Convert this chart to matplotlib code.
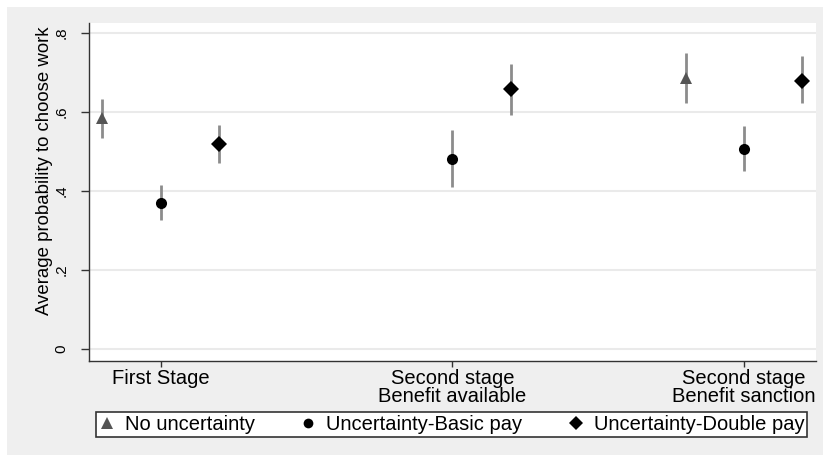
import matplotlib
matplotlib.use("Agg")
import matplotlib.pyplot as plt
from matplotlib.lines import Line2D
from matplotlib.patches import Rectangle
import numpy as np

plt.rcParams['font.family'] = ['Liberation Sans', 'DejaVu Sans']

categories = ["First Stage", "Second stage\nBenefit available", "Second stage\nBenefit sanction"]
series_names = ["No uncertainty", "Uncertainty-Basic pay", "Uncertainty-Double pay"]

# estimates and CI bounds per series (None = absent)
no_unc = [0.584, None, 0.686]
no_unc_lo = [0.533, None, 0.622]
no_unc_hi = [0.633, None, 0.750]

basic = [0.370, 0.482, 0.507]
basic_lo = [0.327, 0.410, 0.450]
basic_hi = [0.414, 0.554, 0.564]

double = [0.520, 0.657, 0.679]
double_lo = [0.472, 0.592, 0.622]
double_hi = [0.567, 0.722, 0.741]

yticks = [0, 0.2, 0.4, 0.6, 0.8]
yticklabels = ["0", ".2", ".4", ".6", ".8"]

W, H = 823, 455
fig = plt.figure(figsize=(W/100, H/100), dpi=100, facecolor='#efefef')
# white strips on top and left
fig.patches.append(Rectangle((0, 0), 7/W, 1, transform=fig.transFigure, facecolor='white', edgecolor='none', zorder=0))
fig.patches.append(Rectangle((0, 1-7/H), 1, 7/H, transform=fig.transFigure, facecolor='white', edgecolor='none', zorder=0))

left, right, top, bottom = 89, 816, 23, 361
ax = fig.add_axes([left/W, 1-bottom/H, (right-left)/W, (bottom-top)/H])
ax.set_facecolor('white')

x = np.arange(1, len(categories)+1)
offsets = [-0.2, 0.0, 0.2]
styles = [
    dict(marker='^', color='#555555', ms=9),
    dict(marker='o', color='black', ms=8),
    dict(marker='D', color='black', ms=8),
]
data = [(no_unc, no_unc_lo, no_unc_hi), (basic, basic_lo, basic_hi), (double, double_lo, double_hi)]

for (est, lo, hi), off, st in zip(data, offsets, styles):
    for xi, e, l, h in zip(x, est, lo, hi):
        if e is None:
            continue
        ax.plot([xi+off, xi+off], [l, h], color='#8c8c8c', lw=2, zorder=2, solid_capstyle='butt')
        ax.plot([xi+off], [e], linestyle='none', marker=st['marker'], color=st['color'],
                markersize=st['ms'], markeredgewidth=0, zorder=3)

ax.set_xlim(0.754, 3.247)
ax.set_ylim(-0.030, 0.825)
ax.set_yticks(yticks)
ax.set_yticklabels(yticklabels, rotation=90, va='center', fontsize=11)
ax.set_xticks(x)
ax.set_xticklabels(categories, fontsize=14.5, linespacing=0.92)
ax.set_ylabel("Average probability to choose work", fontsize=13.4, labelpad=1)
ax.yaxis.label.set_y((361-171)/338)

ax.grid(axis='y', color='#eaeaea', lw=1.5)
ax.set_axisbelow(True)
for s in ['top', 'right']:
    ax.spines[s].set_visible(False)
for s in ['left', 'bottom']:
    ax.spines[s].set_color('#333333')
    ax.spines[s].set_linewidth(1.0)
ax.tick_params(axis='y', colors='#333333', length=6, width=1, labelcolor='black', pad=8.5)
ax.tick_params(axis='x', colors='#333333', length=4, width=1, labelcolor='black', pad=2)

handles = [Line2D([], [], linestyle='none', marker=st['marker'], color=st['color'],
                  markersize=st['ms']-1, markeredgewidth=0) for st in styles]
leg = fig.legend(handles, series_names, loc='center', ncol=3,
                 bbox_to_anchor=((96+807)/2/W, 1-424.5/H),
                 frameon=True, fancybox=False, framealpha=1, edgecolor='#333333',
                 fontsize=14.5, handlelength=0.8, handletextpad=0.5, borderpad=0.15,
                 columnspacing=2.25)
leg.get_frame().set_linewidth(1.2)

fig.savefig("out.png", dpi=100, facecolor=fig.get_facecolor())
